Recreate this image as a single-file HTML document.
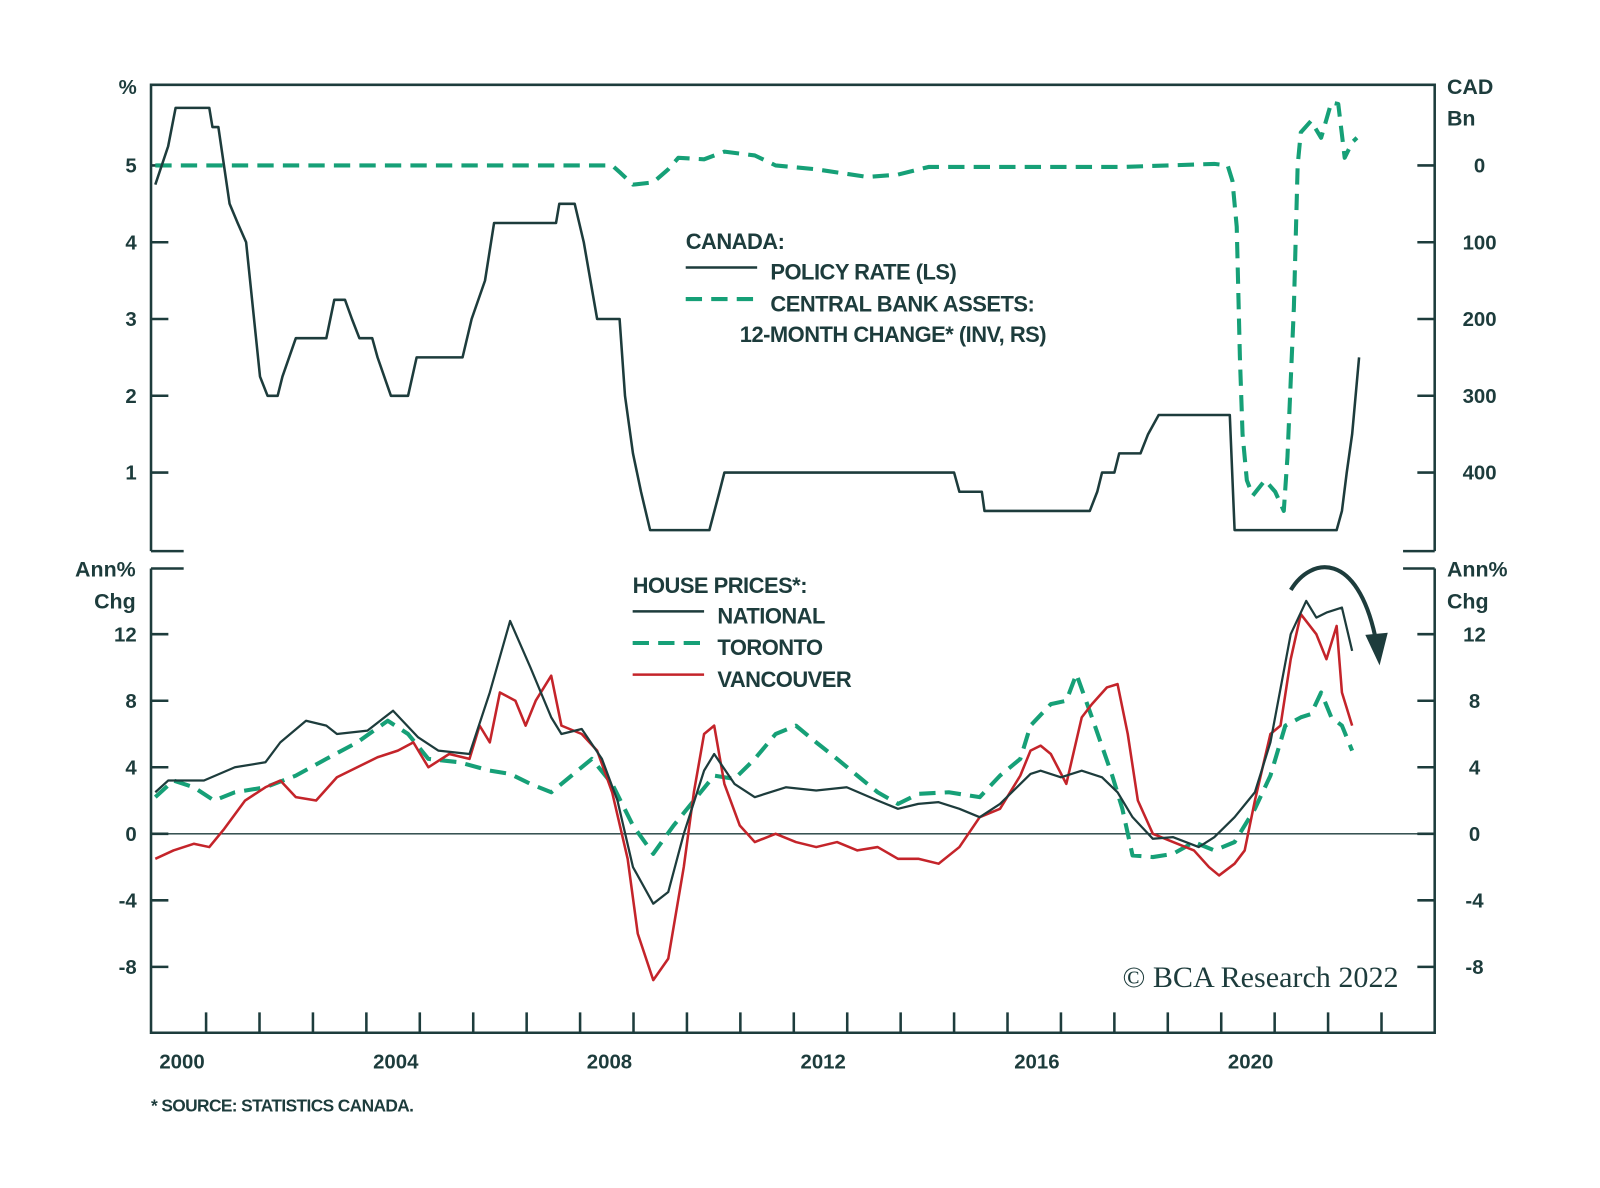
<!DOCTYPE html>
<html><head><meta charset="utf-8"><style>
html,body{margin:0;padding:0;background:#fff;}
svg{display:block;}
text{font-family:"Liberation Sans",sans-serif;fill:#1d3c3c;font-weight:bold;}
.lg{font-size:21.5px;letter-spacing:-0.5px;font-weight:bold;}
</style></head><body>
<svg id="chart" width="1600" height="1188" viewBox="0 0 1568 1164" xmlns="http://www.w3.org/2000/svg">
<g id="frame" stroke="#1d3c3c" stroke-width="2.5" fill="none">
<path d="M148 540 V83 H1406 V540"/>
<path d="M148 540 H180 M1375 540 H1406"/>
<path d="M148 557 V1012 H1406 V557"/>
<path d="M148 557 H180 M1375 557 H1406"/>
</g>
<line x1="148" x2="1406" y1="817" y2="817" stroke="#1d3c3c" stroke-width="1.3"/>
<g id="axes"></g>
<g id="legend-top">
<text class="lg" x="672" y="244">CANADA:</text>
<line x1="672" x2="742" y1="262" y2="262" stroke="#1d3c3c" stroke-width="2.5"/>
<text class="lg" x="755" y="274">POLICY RATE (LS)</text>
<line x1="672" x2="742" y1="293" y2="293" stroke="#16a077" stroke-width="4" stroke-dasharray="16 9"/>
<text class="lg" x="755" y="305">CENTRAL BANK ASSETS:</text>
<text class="lg" x="725" y="335">12-MONTH CHANGE* (INV, RS)</text>
</g>
<g id="legend-bottom">
<text class="lg" x="620" y="581">HOUSE PRICES*:</text>
<line x1="620" x2="690" y1="599" y2="599" stroke="#1d3c3c" stroke-width="2.5"/>
<text class="lg" x="703" y="611">NATIONAL</text>
<line x1="620" x2="690" y1="630" y2="630" stroke="#16a077" stroke-width="4" stroke-dasharray="16 9"/>
<text class="lg" x="703" y="642">TORONTO</text>
<line x1="620" x2="690" y1="661" y2="661" stroke="#c4242a" stroke-width="2.5"/>
<text class="lg" x="703" y="673">VANCOUVER</text>
</g>
<g>
<path d="M1265 578 C1285 545 1330 540 1348 625" stroke="#1d3c3c" stroke-width="4" fill="none"/>
<path d="M1338 622 L1360 620 L1352 652 Z" fill="#1d3c3c"/>
</g>
<text x="1100" y="967" style="font-family:'Liberation Serif',serif;font-weight:normal;font-size:29.5px">© BCA Research 2022</text>
<text x="148" y="1089" style="font-size:17px;letter-spacing:-0.6px">* SOURCE: STATISTICS CANADA.</text>
<g id="series"></g>
</svg>
<script>
const years=[2000,2004,2008,2012,2016,2020];
const leftTopTicks=[1,2,3,4,5];
const rightTopTicks=[0,100,200,300,400];
const bottomTicks=[-8,-4,0,4,8,12];
const policyT=[2000.05,2000.29,2000.43,2001.06,2001.12,2001.23,2001.44,2001.59,2001.75,2002.01,2002.15,2002.34,2002.43,2002.68,2003.25,2003.40,2003.60,2003.73,2003.87,2004.11,2004.21,2004.46,2004.78,2004.94,2005.80,2005.97,2006.22,2006.39,2007.55,2007.61,2007.90,2008.07,2008.32,2008.74,2008.84,2008.99,2009.14,2009.31,2010.42,2010.61,2010.70,2015.00,2015.10,2015.52,2015.57,2017.54,2017.68,2017.77,2018.00,2018.09,2018.49,2018.63,2018.83,2020.16,2020.25,2022.16,2022.26,2022.35,2022.45,2022.58];
const policyV=[4.75,5.25,5.75,5.75,5.5,5.5,4.5,4.25,4.0,2.25,2.0,2.0,2.25,2.75,2.75,3.25,3.25,3.0,2.75,2.75,2.5,2.0,2.0,2.5,2.5,3.0,3.5,4.25,4.25,4.5,4.5,4.0,3.0,3.0,2.0,1.25,0.75,0.25,0.25,0.75,1.0,1.0,0.75,0.75,0.5,0.5,0.75,1.0,1.0,1.25,1.25,1.5,1.75,1.75,0.25,0.25,0.5,1.0,1.5,2.5];
const assetsT=[2000.05,2002.87,2004.78,2008.60,2008.76,2008.99,2009.37,2009.65,2009.84,2010.32,2010.70,2011.27,2011.66,2012.42,2013.38,2013.95,2014.52,2016.24,2018.15,2019.87,2020.12,2020.21,2020.29,2020.35,2020.40,2020.48,2020.59,2020.82,2021.01,2021.17,2021.24,2021.36,2021.43,2021.49,2021.68,2021.87,2022.06,2022.19,2022.31,2022.45,2022.54];
const assetsV=[0,0,0,0,10,25,22,5,-10,-8,-18,-13,0,5,15,12,2,2,2,-2,0,20,80,250,350,410,430,410,425,450,380,185,0,-43,-58,-36,-82,-80,-10,-30,-36];
const nationalT=[2000.05,2000.29,2000.96,2001.54,2002.11,2002.39,2002.87,2003.25,2003.45,2004.02,2004.50,2004.97,2005.35,2005.93,2006.31,2006.69,2007.07,2007.46,2007.65,2008.03,2008.41,2008.70,2008.99,2009.37,2009.65,2009.94,2010.32,2010.51,2010.89,2011.27,2011.85,2012.42,2012.99,2013.57,2013.95,2014.33,2014.71,2015.10,2015.48,2015.86,2016.24,2016.43,2016.62,2017.00,2017.39,2017.77,2018.06,2018.34,2018.72,2019.10,2019.58,2019.87,2020.25,2020.63,2020.92,2021.30,2021.59,2021.78,2021.97,2022.26,2022.45];
const nationalV=[2.5,3.2,3.2,4.0,4.3,5.5,6.8,6.5,6.0,6.2,7.4,5.8,5.0,4.8,8.5,12.8,10.0,7.0,6.0,6.3,4.5,2.0,-2.0,-4.2,-3.5,0,3.8,4.8,3.0,2.2,2.8,2.6,2.8,2.0,1.5,1.8,1.9,1.5,1.0,1.8,3.0,3.6,3.8,3.4,3.8,3.4,2.5,1.0,-0.3,-0.2,-0.8,-0.2,1.0,2.5,5.5,12.0,14.0,13.0,13.3,13.6,11.0];
const torontoT=[2000.05,2000.39,2000.77,2001.15,2001.54,2002.11,2002.68,2003.25,2003.83,2004.40,2004.78,2005.16,2005.74,2006.31,2006.69,2007.07,2007.46,2007.84,2008.22,2008.60,2008.99,2009.37,2009.75,2010.13,2010.51,2010.89,2011.27,2011.66,2012.04,2012.42,2012.81,2013.19,2013.57,2013.95,2014.33,2014.90,2015.48,2015.86,2016.24,2016.43,2016.81,2017.10,2017.29,2017.58,2017.96,2018.15,2018.34,2018.72,2019.10,2019.49,2019.87,2020.25,2020.63,2020.92,2021.20,2021.49,2021.68,2021.87,2022.06,2022.26,2022.45];
const torontoV=[2.2,3.2,2.8,2.0,2.5,2.8,3.5,4.5,5.5,6.8,6.0,4.5,4.3,3.8,3.6,3.0,2.5,3.5,4.5,3.0,0.5,-1.2,0.5,2.0,3.5,3.3,4.5,6.0,6.5,5.5,4.5,3.5,2.5,1.8,2.4,2.5,2.2,3.5,4.5,6.5,7.8,8.0,9.6,7.0,3.5,1.5,-1.3,-1.4,-1.2,-0.5,-1.0,-0.5,1.5,3.5,6.5,7.0,7.2,8.5,7.0,6.5,5.0];
const vancouverT=[2000.05,2000.39,2000.77,2001.06,2001.34,2001.73,2002.11,2002.39,2002.68,2003.06,2003.45,2003.83,2004.21,2004.59,2004.88,2005.16,2005.55,2005.93,2006.12,2006.31,2006.50,2006.79,2006.98,2007.17,2007.46,2007.65,2008.03,2008.32,2008.60,2008.89,2009.08,2009.37,2009.65,2009.94,2010.13,2010.32,2010.51,2010.70,2010.99,2011.27,2011.66,2012.04,2012.42,2012.81,2013.19,2013.57,2013.95,2014.33,2014.71,2015.10,2015.48,2015.86,2016.24,2016.43,2016.62,2016.81,2017.10,2017.39,2017.58,2017.86,2018.06,2018.25,2018.44,2018.72,2019.10,2019.49,2019.77,2019.96,2020.25,2020.44,2020.63,2020.92,2021.11,2021.30,2021.49,2021.78,2021.97,2022.16,2022.26,2022.45];
const vancouverV=[-1.5,-1.0,-0.6,-0.8,0.3,2.0,2.8,3.2,2.2,2.0,3.4,4.0,4.6,5.0,5.5,4.0,4.8,4.5,6.5,5.5,8.5,8.0,6.5,8.0,9.5,6.5,6.0,5.0,2.5,-1.5,-6.0,-8.8,-7.5,-2.0,2.5,6.0,6.5,3.0,0.5,-0.5,0.0,-0.5,-0.8,-0.5,-1.0,-0.8,-1.5,-1.5,-1.8,-0.8,1.0,1.5,3.5,5.0,5.3,4.8,3.0,7.0,7.8,8.8,9.0,6.0,2.0,0.0,-0.5,-1.0,-2.0,-2.5,-1.8,-1.0,2.0,6.0,6.5,10.5,13.2,12.0,10.5,12.5,8.5,6.5];

const NS='http://www.w3.org/2000/svg';
const X=t=>149.6+52.36*(t-2000);
const YL=v=>538.25-75.25*v;
const YR=v=>162+0.7525*v;
const YB=v=>817-16.3*v;
const axes=document.getElementById('axes');
const series=document.getElementById('series');
function mk(tag,attrs,parent){const e=document.createElementNS(NS,tag);for(const k in attrs)e.setAttribute(k,attrs[k]);parent.appendChild(e);return e;}
function txt(x,y,s,anchor,size,name){const e=mk('text',{x:x,y:y,'text-anchor':anchor,'font-size':size},axes);e.textContent=s;

return e;}
const tk={stroke:'#1d3c3c','stroke-width':2.5};
leftTopTicks.forEach(v=>{const l=mk('line',Object.assign({x1:148,x2:165,y1:YL(v),y2:YL(v)},tk),axes);


txt(134,YL(v)+7,String(v),'end',20,'left-top-tick-label');});
rightTopTicks.forEach(v=>{const l=mk('line',Object.assign({x1:1389,x2:1406,y1:YR(v),y2:YR(v)},tk),axes);


txt(1450,YR(v)+7,String(v),'middle',20,'right-top-tick-label');});
bottomTicks.forEach(v=>{const l1=mk('line',Object.assign({x1:148,x2:165,y1:YB(v),y2:YB(v)},tk),axes);


const l2=mk('line',Object.assign({x1:1389,x2:1406,y1:YB(v),y2:YB(v)},tk),axes);


txt(134,YB(v)+7,String(v),'end',20,'left-bottom-tick-label');
txt(1445,YB(v)+7,String(v),'middle',20,'right-bottom-tick-label');});
for(let y=2001;y<=2023;y++){const l=mk('line',Object.assign({x1:X(y),x2:X(y),y1:992,y2:1012},tk),axes);

}
years.forEach(y=>txt(X(y+0.55),1047,String(y),'middle',20,'x-tick-label'));
txt(134,92,'%','end',20,'left-top-unit');
txt(1418,92,'CAD','start',21,'right-top-unit');
txt(1418,123,'Bn','start',21,'right-top-unit');
txt(133,565,'Ann%','end',21,'left-bottom-unit');
txt(133,596,'Chg','end',21,'left-bottom-unit');
txt(1418,565,'Ann%','start',21,'right-bottom-unit');
txt(1418,596,'Chg','start',21,'right-bottom-unit');
function line(T,V,yf,color,w,dash,name){const d=T.map((t,i)=>(i?'L':'M')+X(t).toFixed(1)+' '+yf(V[i]).toFixed(1)).join(' ');
const p=mk('path',{d:d,fill:'none',stroke:color,'stroke-width':w,'stroke-linejoin':'round'},series);
if(dash)p.setAttribute('stroke-dasharray',dash);

}
line(assetsT,assetsV,YR,'#16a077',4,'16 9','central-bank-assets-line');
line(policyT,policyV,YL,'#1d3c3c',2.5,null,'policy-rate-line');
line(torontoT,torontoV,YB,'#16a077',4,'16 9','toronto-line');
line(vancouverT,vancouverV,YB,'#c4242a',2.5,null,'vancouver-line');
line(nationalT,nationalV,YB,'#1d3c3c',2.2,null,'national-line');
</script>
</body></html>
